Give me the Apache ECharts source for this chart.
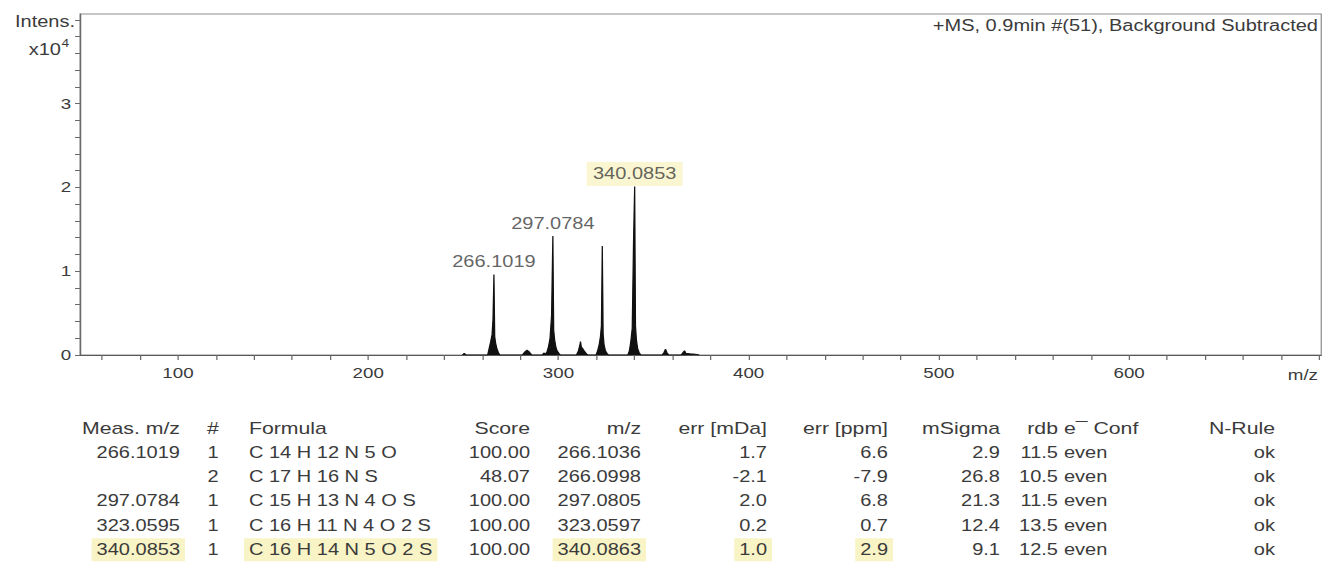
<!DOCTYPE html>
<html>
<head>
<meta charset="utf-8">
<script src="https://cdn.jsdelivr.net/npm/echarts@6/dist/echarts.min.js"></script>
<style>
  html, body { margin: 0; padding: 0; background: #fff; overflow: hidden; }
  /* The chart is laid out on a narrower canvas and widened horizontally. */
  #chart { width: 1060px; height: 563px; transform: scaleX(1.25); transform-origin: 0 0; }
</style>
</head>
<body>
<div id="chart"></div>
<script>
// ---- Spectrum profile: m/z and intensity (x10^4 counts) ----
const spectrumMz = [
  249.5, 250.5, 251.5,
  262.8, 263.6, 264.4, 265.1, 265.6, 266.1019, 266.5, 267.0, 267.6, 268.4, 269.2,
  281.0, 282.5, 283.5, 284.5, 286.0,
  291.5, 292.3, 293.2, 294.0, 294.8, 295.6, 296.4, 297.0784, 297.5, 298.0, 298.6, 299.3, 300.2, 301.0,
  309.5, 310.5, 311.3, 311.6, 312.0, 312.6, 313.5, 314.5, 315.5,
  319.8, 320.6, 321.4, 322.1, 322.6, 323.0595, 323.5, 324.0, 324.7, 325.5, 326.3,
  336.5, 337.3, 338.0, 338.8, 339.5, 340.0853, 340.5, 341.0, 341.6, 342.4, 343.3,
  354.5, 355.5, 356.3, 357.0, 358.0,
  364.5, 365.5, 366.3, 367.0, 369.0, 372.0, 374.0
];
const spectrumInt = [
  0, 0.02, 0,
  0, 0.08, 0.16, 0.24, 0.42, 0.96, 0.22, 0.14, 0.08, 0.03, 0,
  0, 0.04, 0.06, 0.04, 0,
  0, 0.025, 0.01, 0.04, 0.10, 0.20, 0.47, 1.42, 0.30, 0.18, 0.10, 0.05, 0.02, 0,
  0, 0.05, 0.12, 0.16, 0.10, 0.08, 0.05, 0.02, 0,
  0, 0.05, 0.12, 0.22, 0.35, 1.30, 0.25, 0.12, 0.05, 0.02, 0,
  0, 0.05, 0.15, 0.32, 1.37, 2.01, 0.35, 0.18, 0.08, 0.03, 0,
  0, 0.03, 0.07, 0.03, 0,
  0, 0.03, 0.05, 0.02, 0.015, 0.01, 0
];

// ---- Annotated peaks ----
const peakLabels = ['266.1019', '297.0784', '340.0853'];
const highlightedPeak = '340.0853';

// ---- Axis ticks and labels ----
const xTickValues = [60, 80, 100, 120, 140, 160, 180, 200, 220, 240, 260, 280, 300, 320, 340, 360, 380, 400,
  420, 440, 460, 480, 500, 520, 540, 560, 580, 600, 620, 640, 660, 680, 700];
const xLabelValues = [100, 200, 300, 400, 500, 600];
const yTickValues = [0, 0.2, 0.4, 0.6, 0.8, 1, 1.2, 1.4, 1.6, 1.8, 2, 2.2, 2.4, 2.6, 2.8, 3, 3.2, 3.4, 3.6, 3.8, 4];
const yLabelValues = [0, 1, 2, 3];

const spectrumTitle = '+MS, 0.9min #(51), Background Subtracted';

// ---- Formula table ----
const colMeas    = ['266.1019', '', '297.0784', '323.0595', '340.0853'];
const colRank    = ['1', '2', '1', '1', '1'];
const colFormula = ['C 14 H 12 N 5 O', 'C 17 H 16 N S', 'C 15 H 13 N 4 O S', 'C 16 H 11 N 4 O 2 S', 'C 16 H 14 N 5 O 2 S'];
const colScore   = ['100.00', '48.07', '100.00', '100.00', '100.00'];
const colMz      = ['266.1036', '266.0998', '297.0805', '323.0597', '340.0863'];
const colErrMDa  = ['1.7', '-2.1', '2.0', '0.2', '1.0'];
const colErrPpm  = ['6.6', '-7.9', '6.8', '0.7', '2.9'];
const colMSigma  = ['2.9', '26.8', '21.3', '12.4', '9.1'];
const colRdb     = ['11.5', '10.5', '11.5', '13.5', '12.5'];
const colEConf   = ['even', 'even', 'even', 'even', 'even'];
const colNRule   = ['ok', 'ok', 'ok', 'ok', 'ok'];
const highlightRow = 4;

// ---- Layout ----
const STRETCH = 1.25;                 // horizontal widening applied to #chart
const sx = v => v / STRETCH;          // page x -> chart x
const FONT = '"Liberation Sans", Arial, sans-serif';
const TEXT_COLOR = '#3b3b3b';
const HIGHLIGHT = '#f9f4c6';

const tableColumns = [
  { header: 'Meas. m/z', values: colMeas,    x: 180,  align: 'right',  hl: true },
  { header: '#',         values: colRank,    x: 213,  align: 'center', hl: false },
  { header: 'Formula',   values: colFormula, x: 249,  align: 'left',   hl: true },
  { header: 'Score',     values: colScore,   x: 530,  align: 'right',  hl: false },
  { header: 'm/z',       values: colMz,      x: 641,  align: 'right',  hl: true },
  { header: 'err [mDa]', values: colErrMDa,  x: 767,  align: 'right',  hl: true },
  { header: 'err [ppm]', values: colErrPpm,  x: 888,  align: 'right',  hl: true },
  { header: 'mSigma',    values: colMSigma,  x: 1000, align: 'right',  hl: false },
  { header: 'rdb',       values: colRdb,     x: 1058, align: 'right',  hl: false },
  { header: 'e\u00AF Conf', values: colEConf, x: 1064, align: 'left',  hl: false },
  { header: 'N-Rule',    values: colNRule,   x: 1275, align: 'right',  hl: false }
];
const headerY = 428;
const rowY = [452.5, 476.8, 501.1, 525.4, 549.7];

function textEl(x, y, text, size, align, extra) {
  return {
    type: 'text', x: x, y: y, silent: true, z: 10,
    style: Object.assign({
      text: text, fill: TEXT_COLOR, fontSize: size, fontFamily: FONT,
      textAlign: align, textVerticalAlign: 'middle'
    }, extra || {})
  };
}

const graphics = [];
// spectrum header text and axis captions
graphics.push(textEl(sx(1318), 26, spectrumTitle, 16, 'right'));
graphics.push(textEl(sx(75), 22, 'Intens.', 16, 'right'));
graphics.push(textEl(sx(61), 50, 'x10', 16, 'right'));
graphics.push(textEl(sx(61.5), 43, '4', 11, 'left'));
graphics.push(textEl(sx(1318), 375, 'm/z', 15, 'right'));

// table
const PAD = 4;
tableColumns.forEach(col => {
  graphics.push(textEl(sx(col.x), headerY, col.header, 17, col.align));
  col.values.forEach((v, r) => {
    if (!v) return;
    if (col.hl && r === highlightRow) {
      let x = sx(col.x);
      if (col.align === 'right') x += PAD;
      if (col.align === 'left') x -= PAD;
      graphics.push(textEl(x, rowY[r], v, 16, col.align, {
        backgroundColor: HIGHLIGHT, padding: [4, PAD, 3, PAD]
      }));
    } else {
      graphics.push(textEl(sx(col.x), rowY[r], v, 16, col.align));
    }
  });
});

// annotated peak points taken from the spectrum arrays
const peakPoints = peakLabels.map(lbl => {
  const mz = parseFloat(lbl);
  const idx = spectrumMz.indexOf(mz);
  const item = { name: lbl, value: [mz, spectrumInt[idx]] };
  if (lbl === highlightedPeak) {
    item.label = { backgroundColor: HIGHLIGHT, padding: [4, 5, 4, 5], distance: 0 };
  }
  return item;
});

const chart = echarts.init(document.getElementById('chart'), null, { renderer: 'svg' });
chart.setOption({
  animation: false,
  backgroundColor: '#fff',
  textStyle: { fontFamily: FONT },
  grid: {
    left: 64, right: 3, top: 14, bottom: 208,
    show: true, borderColor: '#8e8e8e', borderWidth: 1
  },
  xAxis: {
    type: 'value', min: 48.5, max: 701,
    axisLine: { show: true, lineStyle: { color: '#5a5a5a', width: 1 } },
    axisTick: { show: true, customValues: xTickValues, length: 5, lineStyle: { color: '#6a6a6a' } },
    axisLabel: { customValues: xLabelValues, margin: 11, fontSize: 15, color: TEXT_COLOR, fontFamily: FONT },
    splitLine: { show: false }
  },
  yAxis: {
    type: 'value', min: 0, max: 4.07,
    axisLine: { show: true, lineStyle: { color: '#6a6a6a', width: 1 } },
    axisTick: { show: true, customValues: yTickValues, length: 4, lineStyle: { color: '#6a6a6a' } },
    axisLabel: { customValues: yLabelValues, margin: 7, fontSize: 15, color: TEXT_COLOR, fontFamily: FONT },
    splitLine: { show: false }
  },
  series: [
    {
      type: 'line',
      data: spectrumMz.map((mz, i) => [mz, spectrumInt[i]]),
      symbol: 'none',
      lineStyle: { color: '#111', width: 1 },
      areaStyle: { color: '#111', opacity: 1 },
      silent: true,
      z: 3
    },
    {
      type: 'scatter',
      data: peakPoints,
      symbolSize: 1,
      itemStyle: { color: 'rgba(0,0,0,0)' },
      label: {
        show: true, position: 'top', distance: 4,
        formatter: p => p.name,
        fontSize: 16, color: TEXT_COLOR, fontFamily: FONT
      },
      silent: true,
      z: 5
    }
  ],
  graphic: graphics
});
</script>
</body>
</html>
